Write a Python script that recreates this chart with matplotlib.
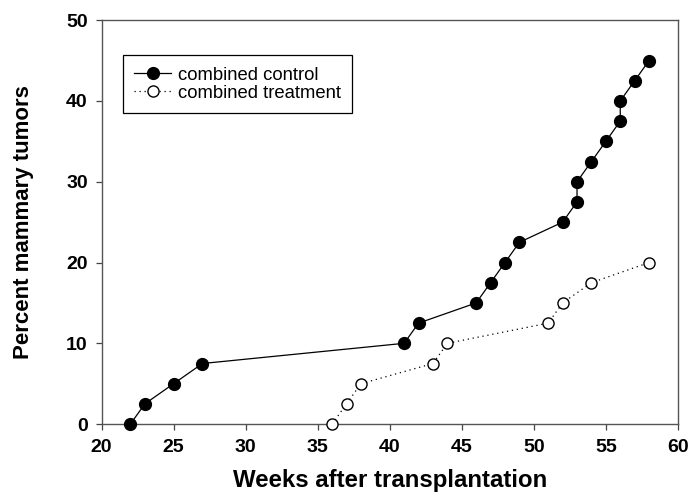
"""Cumulative mammary tumor incidence after transplantation, control vs treatment."""
import matplotlib
matplotlib.use('Agg')
import matplotlib.pyplot as plt

plt.rcParams['font.family'] = ['Liberation Sans', 'DejaVu Sans']

# Cumulative incidence (each tumor adds 2.5 %)
ctrl_weeks = [22, 23, 25, 27, 41, 42, 46, 47, 48, 49, 52, 53, 53, 54, 55, 56, 56, 57, 58]
ctrl_pct = [0, 2.5, 5, 7.5, 10, 12.5, 15, 17.5, 20, 22.5, 25, 27.5, 30, 32.5, 35, 37.5, 40, 42.5, 45]
treat_weeks = [36, 37, 38, 43, 44, 51, 52, 54, 58]
treat_pct = [0, 2.5, 5, 7.5, 10, 12.5, 15, 17.5, 20]

x_ticks = [20, 25, 30, 35, 40, 45, 50, 55, 60]
y_ticks = [0, 10, 20, 30, 40, 50]

fig = plt.figure(figsize=(6.91, 4.92), dpi=100, facecolor='white')
ax = fig.add_axes([0.147, 0.138, 0.834, 0.821])

ax.plot(ctrl_weeks, ctrl_pct, color='black', lw=0.9, marker='o', ms=8.5,
        mfc='black', mec='black', label='combined control', clip_on=False, zorder=3)
ax.plot(treat_weeks, treat_pct, color='black', lw=0.9, ls=(0, (1, 3)), marker='o', ms=8,
        mfc='white', mec='black', mew=1.0, label='combined treatment', clip_on=False, zorder=3)

ax.set_xlim(20, 60)
ax.set_ylim(0, 50)
ax.set_xticks(x_ticks)
ax.set_yticks(y_ticks)
for lab in ax.get_xticklabels() + ax.get_yticklabels():
    lab.set_fontweight('bold')
ax.tick_params(axis='both', direction='out', length=4, width=0.9, labelsize=14,
               color='#444', top=False, right=False)
ax.tick_params(axis='x', pad=7)
ax.tick_params(axis='y', pad=6)
for sp in ax.spines.values():
    sp.set_color('#555')
    sp.set_linewidth(1.0)

ax.set_xlabel('Weeks after transplantation', fontsize=17.3, fontweight='bold', labelpad=9)
ax.set_ylabel('Percent mammary tumors', fontsize=16, fontweight='bold', labelpad=23)

leg = ax.legend(loc='upper left', bbox_to_anchor=(0.0365, 0.9126), fontsize=13.3,
                frameon=True, fancybox=False, framealpha=1, edgecolor='black',
                handlelength=2.0, handletextpad=0.37, labelspacing=0.05,
                borderpad=0.62, borderaxespad=0)
leg.get_frame().set_linewidth(0.9)

plt.savefig('out.png', dpi=100, facecolor='white')
plt.close()
